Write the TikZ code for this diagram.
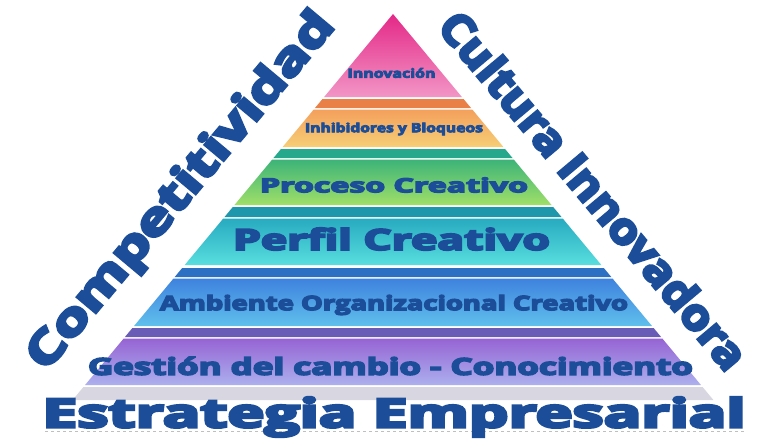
\documentclass[tikz,border=0pt]{standalone}
\usepackage{fontspec}
\setmainfont{Open Sans}[BoldFeatures={FakeBold=6}]
\usepackage{graphicx}
\definecolor{txt}{RGB}{27,77,152}
\definecolor{p1t}{RGB}{228,40,135}\definecolor{p1b}{RGB}{242,150,198}
\definecolor{o2s}{RGB}{232,128,72}\definecolor{o2t}{RGB}{244,160,92}\definecolor{o2b}{RGB}{246,206,118}
\definecolor{g3s}{RGB}{38,168,140}\definecolor{g3t}{RGB}{60,180,120}\definecolor{g3b}{RGB}{160,224,104}
\definecolor{c4s}{RGB}{30,150,172}\definecolor{c4t}{RGB}{40,170,192}\definecolor{c4b}{RGB}{88,222,222}
\definecolor{b5s}{RGB}{44,112,196}\definecolor{b5t}{RGB}{62,130,222}\definecolor{b5b}{RGB}{96,192,236}
\definecolor{v6s}{RGB}{104,92,182}\definecolor{v6t}{RGB}{150,100,212}\definecolor{v6b}{RGB}{172,176,238}
\definecolor{gbase}{RGB}{216,214,224}
% width, font size, text
\newcommand\fitw[3]{\resizebox{#1pt}{\height}{\fontsize{#2}{#2}\selectfont\bfseries #3}}
% layer: top y, strip end y, bottom y, strip colour, top colour, bottom colour
\newcommand\pyrlayer[6]{%
  \fill[#4] ({393-(#1-14)*0.83},#1) -- ({393+(#1-14)*0.83},#1) -- ({393+(#2-14)*0.83},#2) -- ({393-(#2-14)*0.83},#2) -- cycle;
  \shade[top color=#5,bottom color=#6] ({393-(#2+1.5-14)*0.83},{#2+1.5}) -- ({393+(#2+1.5-14)*0.83},{#2+1.5}) -- ({393+(#3-14)*0.83},#3) -- ({393-(#3-14)*0.83},#3) -- cycle;
}
\begin{document}
\begin{tikzpicture}[x=1pt,y=-1pt,
  lab/.style={text=txt,inner sep=0pt,outer sep=0pt}]
\useasboundingbox (0,0) rectangle (759,447);
\fill[white] (0,0) rectangle (759,447);
% top triangle
\shade[top color=p1t,bottom color=p1b]
  (393,14) -- ({393+(97-14)*0.83},97) -- ({393-(97-14)*0.83},97) -- cycle;
\pyrlayer{99}{108}{147}{o2s}{o2t}{o2b}
\pyrlayer{149}{158}{205}{g3s}{g3t}{g3b}
\pyrlayer{207}{217}{265}{c4s}{c4t}{c4b}
\pyrlayer{268}{277}{326}{b5s}{b5t}{b5b}
\pyrlayer{328}{337}{385}{v6s}{v6t}{v6b}
% grey base band
\fill[gbase] ({393-(387-14)*0.83},387) -- ({393+(387-14)*0.83},387) -- ({393+(400-14)*0.83},400) -- ({393-(400-14)*0.83},400) -- cycle;
\draw[gray!50,dashed,line width=0.6pt] (45,431) -- (745,431);
% labels
\node[lab] (l1) at (391.5,73) {\fitw{88}{12.6}{Innovación}};
\node[lab] (l2) at (394,129) {\fitw{178}{12.6}{Inhibidores y Bloqueos}};
\node[lab] (l3) at (394,185) {\fitw{268}{19.6}{Proceso Creativo}};
\node[lab] (l4) at (391.5,239) {\fitw{317}{29}{Perfil Creativo}};
\node[lab] (l5) at (394,305) {\fitw{468}{20}{Ambiente Organizacional Creativo}};
\node[lab] (l6) at (390.5,366) {\fitw{605}{23.4}{Gestión del cambio - Conocimiento}};
\node[lab] (base) at (394,417) {\fitw{703}{40}{Estrategia Empresarial}};
\node[lab,rotate=50] (comp) at (182,192) {\fitw{452}{45}{Competitividad}};
\node[lab,rotate=-50] (cult) at (594,190) {\fitw{452}{44}{Cultura Innovadora}};
\end{tikzpicture}
\end{document}
